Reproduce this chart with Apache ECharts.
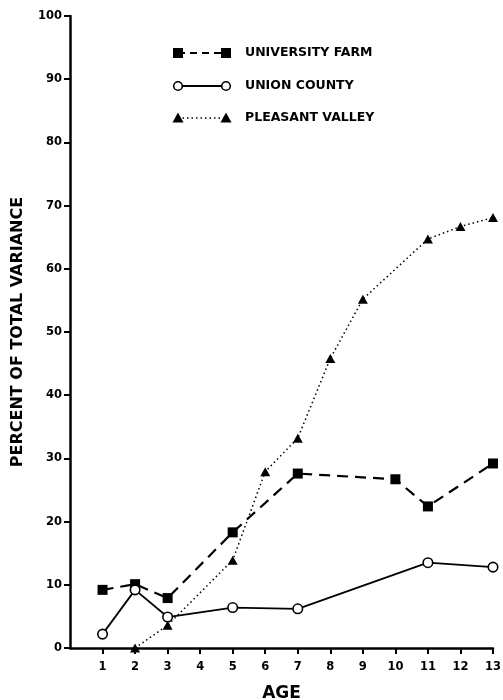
<!DOCTYPE html>
<html><head><meta charset="utf-8">
<script src="https://cdn.jsdelivr.net/npm/echarts@6/dist/echarts.min.js"></script>
<style>html,body{margin:0;padding:0;background:#fff}#c{width:503px;height:700px}</style>
</head><body><div id="c"></div>
<script>
var seriesNames = ['UNIVERSITY FARM', 'UNION COUNTY', 'PLEASANT VALLEY'];
var farmAges = [1, 2, 3, 5, 7, 10, 11, 13];
var farmValues = [9.2, 10.1, 7.9, 18.3, 27.6, 26.7, 22.4, 29.2];
var unionAges = [1, 2, 3, 5, 7, 11, 13];
var unionValues = [2.2, 9.2, 4.9, 6.4, 6.2, 13.5, 12.8];
var valleyAges = [2, 3, 5, 6, 7, 8, 9, 11, 12, 13];
var valleyValues = [0, 3.6, 13.9, 27.9, 33.2, 45.8, 55.2, 64.7, 66.7, 68.1];
var xTicks = [1,2,3,4,5,6,7,8,9,10,11,12,13];
var xTickLabels = ['1','2','3','4','5','6','7','8','9','10','11','12','13'];
var yTickLabels = ['0','10','20','30','40','50','60','70','80','90','100'];

function pairs(xs, ys){ return xs.map(function(x,i){ return [x, ys[i]]; }); }

var FONT = 'DejaVu Sans';
var tri = 'path://M5,0 L10,9 L0,9 Z';
var chart = echarts.init(document.getElementById('c'));

function legendItem(i, y, lineType, sym){
  var children = [{
    type:'line', shape:{x1:178,y1:y,x2:226,y2:y},
    style:{stroke:'#000', lineWidth: i===2?1.5:2, lineDash: lineType}
  }];
  [178, 226].forEach(function(cx){
    if (sym==='rect') children.push({type:'rect', shape:{x:cx-5,y:y-5,width:10,height:10}, style:{fill:'#000'}});
    else if (sym==='circle') children.push({type:'circle', shape:{cx:cx,cy:y,r:4.3}, style:{fill:'#fff', stroke:'#000', lineWidth:1.6}});
    else children.push({type:'polygon', shape:{points:[[cx,y-5.5],[cx+5.5,y+4.5],[cx-5.5,y+4.5]]}, style:{fill:'#000'}});
  });
  children.push({type:'text', x:245, y:y, style:{text:seriesNames[i], fill:'#000', font:'bold 12.5px "'+FONT+'"', verticalAlign:'middle', textAlign:'left'}});
  return {type:'group', children:children};
}

chart.setOption({
  animation:false,
  grid:{left:70, top:16, right:10, bottom:52, containLabel:false, outerBoundsMode:'none'},
  xAxis:{
    type:'value', min:0, max:13, interval:1,
    name:'AGE', nameLocation:'middle', nameGap:37,
    nameTextStyle:{fontFamily:FONT, fontWeight:'bold', fontSize:17, color:'#000'},
    axisLine:{lineStyle:{color:'#000', width:2.5}},
    axisTick:{lineStyle:{color:'#000', width:2}, length:6, customValues:xTicks},
    axisLabel:{color:'#000', fontFamily:FONT, fontWeight:'bold', fontSize:11.5, margin:13,
      customValues:xTicks,
      formatter:function(v){ return v===0 ? '' : xTickLabels[v-1]; }},
    splitLine:{show:false}
  },
  yAxis:{
    type:'value', min:0, max:100, interval:10,
    name:'PERCENT OF TOTAL VARIANCE', nameLocation:'middle', nameGap:44,
    nameTextStyle:{fontFamily:FONT, fontWeight:'bold', fontSize:16, color:'#000'},
    axisLine:{show:true, lineStyle:{color:'#000', width:2.5}},
    axisTick:{show:true, lineStyle:{color:'#000', width:2}, length:6},
    axisLabel:{color:'#000', fontFamily:FONT, fontWeight:'bold', fontSize:11.5, margin:8,
      formatter:function(v){ return yTickLabels[Math.round(v/10)]; }},
    splitLine:{show:false}
  },
  series:[
    {name:seriesNames[0], type:'line', data:pairs(farmAges, farmValues), clip:false,
     symbol:'rect', symbolSize:10, itemStyle:{color:'#000'},
     lineStyle:{color:'#000', width:2.2, type:[11,7]}, z:3},
    {name:seriesNames[1], type:'line', data:pairs(unionAges, unionValues), clip:false,
     symbol:'circle', symbolSize:9.5, itemStyle:{color:'#fff', borderColor:'#000', borderWidth:1.6},
     lineStyle:{color:'#000', width:1.8}, z:4},
    {name:seriesNames[2], type:'line', data:pairs(valleyAges, valleyValues), clip:false,
     symbol:tri, symbolSize:[10,9], itemStyle:{color:'#000'},
     lineStyle:{color:'#000', width:1.5, type:[1.5,3]}, z:2}
  ],
  graphic:[
    legendItem(0, 53, [7,5], 'rect'),
    legendItem(1, 86, null, 'circle'),
    legendItem(2, 118, [1.5,3], 'tri')
  ]
});
</script></body></html>
